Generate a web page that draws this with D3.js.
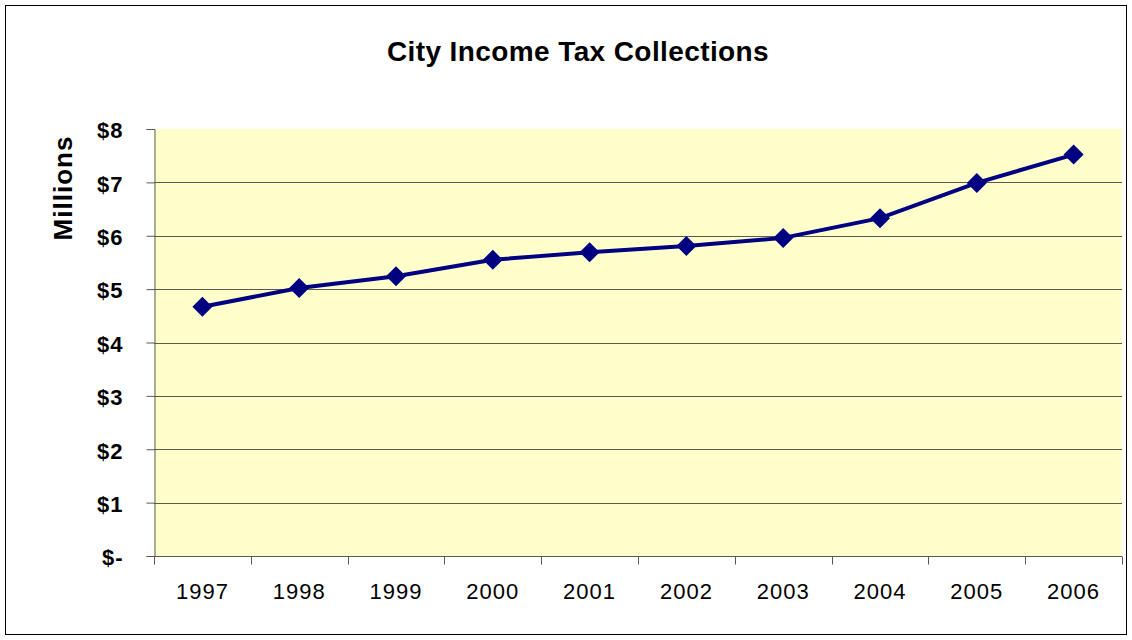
<!DOCTYPE html>
<html>
<head>
<meta charset="utf-8">
<script src="https://cdn.jsdelivr.net/npm/d3@7"></script>
<style>
  body { margin: 0; background: #fff; }
  text { font-family: "Liberation Sans", Arial, sans-serif; }
</style>
</head>
<body>
<script>
// data
var years = ["1997", "1998", "1999", "2000", "2001", "2002", "2003", "2004", "2005", "2006"];
var collections = [4.67, 5.02, 5.24, 5.55, 5.69, 5.81, 5.96, 6.33, 6.99, 7.52];
var yTicks = [0, 1, 2, 3, 4, 5, 6, 7, 8];

var W = 1132, H = 640;
var plot = {left: 154, right: 1122, top: 129, bottom: 556};

var svg = d3.select("body")
  .append("svg")
  .attr("width", W)
  .attr("height", H);

// outer chart border
svg.append("rect")
  .attr("x", 5.5).attr("y", 5.5)
  .attr("width", W - 11).attr("height", H - 11)
  .attr("fill", "#fff")
  .attr("stroke", "#000")
  .attr("stroke-width", 1);

var x = d3.scaleBand()
  .domain(years)
  .range([plot.left, plot.right]);

var y = d3.scaleLinear()
  .domain([0, 8])
  .range([plot.bottom, plot.top]);

// plot background
svg.append("rect")
  .attr("x", plot.left).attr("y", plot.top)
  .attr("width", plot.right - plot.left)
  .attr("height", plot.bottom - plot.top)
  .attr("fill", "#FFFFCC");

// gridlines
svg.append("g")
  .selectAll("line")
  .data(yTicks.filter(function(d){ return d > 0 && d < 8; }))
  .enter().append("line")
  .attr("x1", plot.left).attr("x2", plot.right)
  .attr("y1", function(d){ return Math.round(y(d)) + 0.5; })
  .attr("y2", function(d){ return Math.round(y(d)) + 0.5; })
  .attr("stroke", "#5a5a50")
  .attr("stroke-width", 1);

// y axis
var yAxis = d3.axisLeft(y)
  .tickValues(yTicks)
  .tickSize(8)
  .tickPadding(23)
  .tickFormat(function(d){ return d === 0 ? "$-" : "$" + d; });

var gy = svg.append("g")
  .attr("transform", "translate(" + (plot.left + 0.5) + ",0)")
  .call(yAxis);
gy.select(".domain").attr("stroke", "#5a5a50");
gy.selectAll(".tick line").attr("stroke", "#5a5a50");
gy.selectAll(".tick text")
  .attr("dy", "0.4em")
  .attr("fill", "#000")
  .style("font-size", "22px")
  .style("font-weight", "bold")
  .style("letter-spacing", "1px")
  .style("font-family", "Liberation Sans, Arial, sans-serif");

// x axis, ticks on category boundaries
var gx = svg.append("g")
  .attr("transform", "translate(0," + (plot.bottom + 0.5) + ")");
gx.append("line")
  .attr("x1", plot.left).attr("x2", plot.right)
  .attr("stroke", "#5a5a50");
gx.selectAll("line.tk")
  .data(years.concat(["end"]))
  .enter().append("line")
  .attr("class", "tk")
  .attr("x1", function(d, i){ return Math.round(plot.left + i * x.step()) + 0.5; })
  .attr("x2", function(d, i){ return Math.round(plot.left + i * x.step()) + 0.5; })
  .attr("y1", 0).attr("y2", 8)
  .attr("stroke", "#5a5a50");
gx.selectAll("text")
  .data(years)
  .enter().append("text")
  .attr("x", function(d){ return x(d) + x.bandwidth() / 2; })
  .attr("y", 42.5)
  .attr("text-anchor", "middle")
  .attr("fill", "#000")
  .style("font-size", "22px")
  .style("letter-spacing", "1px")
  .text(function(d){ return d; });

// line
var line = d3.line()
  .x(function(d, i){ return x(years[i]) + x.bandwidth() / 2; })
  .y(function(d){ return y(d); });

svg.append("path")
  .datum(collections)
  .attr("d", line)
  .attr("fill", "none")
  .attr("stroke", "#000080")
  .attr("stroke-width", 4);

// diamond markers
var diamond = d3.symbol().type(d3.symbolSquare).size(200);
svg.append("g")
  .selectAll("path")
  .data(collections)
  .enter().append("path")
  .attr("d", diamond)
  .attr("transform", function(d, i){
    return "translate(" + (x(years[i]) + x.bandwidth() / 2) + "," + y(d) + ") rotate(45)";
  })
  .attr("fill", "#000080");

// title
svg.append("text")
  .attr("x", 578).attr("y", 61)
  .attr("text-anchor", "middle")
  .style("font-size", "28px")
  .style("font-weight", "bold")
  .style("letter-spacing", "0.4px")
  .text("City Income Tax Collections");

// y axis title
svg.append("text")
  .attr("transform", "translate(72,188) rotate(-90)")
  .attr("text-anchor", "middle")
  .style("font-size", "26px")
  .style("font-weight", "bold")
  .style("letter-spacing", "1px")
  .text("Millions");
</script>
</body>
</html>
